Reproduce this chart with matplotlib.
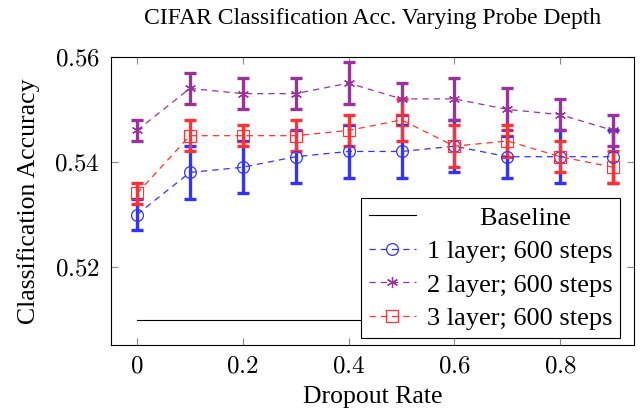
import matplotlib
matplotlib.use("Agg")
import matplotlib.pyplot as plt
import numpy as np

plt.rcParams['font.family'] = ['Liberation Serif', 'DejaVu Serif']
plt.rcParams['mathtext.fontset'] = 'cm'

dropout = [0.0, 0.1, 0.2, 0.3, 0.4, 0.5, 0.6, 0.7, 0.8, 0.9]

acc_1layer = [0.530, 0.538, 0.539, 0.541, 0.542, 0.542, 0.543, 0.541, 0.541, 0.541]
err_1layer = [0.003, 0.005, 0.005, 0.005, 0.005, 0.005, 0.005, 0.004, 0.005, 0.005]

acc_2layer = [0.546, 0.554, 0.553, 0.553, 0.555, 0.552, 0.552, 0.550, 0.549, 0.546]
err_2layer = [0.002, 0.003, 0.003, 0.003, 0.004, 0.003, 0.004, 0.004, 0.003, 0.003]

acc_3layer = [0.534, 0.545, 0.545, 0.545, 0.546, 0.548, 0.543, 0.544, 0.541, 0.539]
err_3layer = [0.002, 0.003, 0.002, 0.003, 0.003, 0.004, 0.004, 0.003, 0.003, 0.003]

baseline = 0.510

labels = ["1 layer; 600 steps", "2 layer; 600 steps", "3 layer; 600 steps"]
colors = ['#3333ff', '#993399', '#ff3333']
markers = ['o', (6, 2, 0), 's']
msizes = [8.5, 8, 8]

fig = plt.figure(figsize=(6.42, 4.12), dpi=100)
ax = fig.add_axes([0.173, 0.163, 0.815, 0.699])

ax.plot([dropout[0], dropout[-1]], [baseline, baseline], color='black', lw=0.8,
        label='        Baseline')

series = [(acc_1layer, err_1layer), (acc_2layer, err_2layer), (acc_3layer, err_3layer)]
for (acc, err), lab, c, m, ms in zip(series, labels, colors, markers, msizes):
    # error bars drawn separately so the line stays thin
    ax.errorbar(dropout, acc, yerr=err, fmt='none', ecolor=c, elinewidth=2.4,
                capsize=4.3, capthick=2.4, zorder=2)
    ax.plot(dropout, acc, color=c, ls=(0, (5, 4)), lw=0.9, marker=m,
            markersize=ms, markerfacecolor='none', markeredgecolor=c,
            markeredgewidth=0.9, label=lab, zorder=3)

ax.set_xlim(-0.049, 0.94)
ax.set_ylim(0.5052, 0.56)
ax.set_xticks([0, 0.2, 0.4, 0.6, 0.8])
ax.set_xticklabels(['$0$', '$0.2$', '$0.4$', '$0.6$', '$0.8$'])
ax.set_yticks([0.52, 0.54, 0.56])
ax.set_yticklabels(['$0.52$', '$0.54$', '$0.56$'])
ax.tick_params(direction='in', length=5, color='#888888', labelsize=18,
               top=True, right=True, pad=8)

ax.set_title("CIFAR Classification Acc. Varying Probe Depth", fontsize=17, pad=24)
ax.set_xlabel("Dropout Rate", fontsize=18.5, labelpad=6)
ax.set_ylabel("Classification Accuracy", fontsize=18.5, labelpad=10)

leg = ax.legend(loc='lower right', bbox_to_anchor=(0.973, 0.024), fontsize=19,
                frameon=True, fancybox=False, edgecolor='black', framealpha=1,
                borderaxespad=0, handlelength=1.8, labelspacing=0.38,
                handletextpad=0.4, borderpad=0.3)
leg.get_frame().set_linewidth(0.8)

fig.savefig("out.png", dpi=100)
